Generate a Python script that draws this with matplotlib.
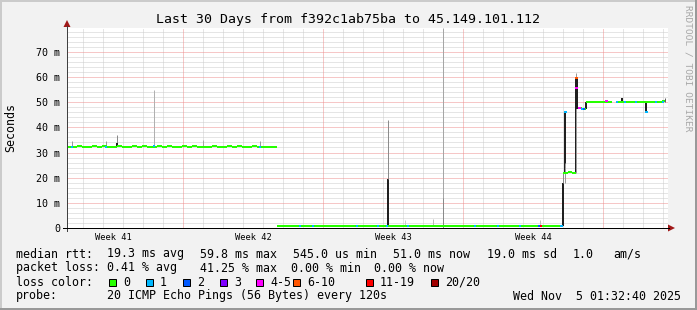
import numpy as np
import matplotlib
matplotlib.use("Agg")
import matplotlib.pyplot as plt
from matplotlib.patches import Polygon, Rectangle
from matplotlib.lines import Line2D

W, H = 697, 310
MONO = "DejaVu Sans Mono"

# ---- data (x in days from left edge of graph, rtt in ms) ----
step = 0.25
seg1_start = 0.0
seg1_rtt = [32.3, 32.1, 32.5, 32.2, 32.0, 32.4, 32.3, 32.6, 32.1, 32.2, 32.5, 32.3,
            32.0, 32.4, 32.2, 32.6, 32.3, 32.1, 32.4, 32.2, 32.5, 32.0, 32.3, 32.4,
            32.1, 32.6, 32.2, 32.3, 32.0, 32.5, 32.3, 32.1, 32.4, 32.2, 32.6, 32.3,
            32.0, 32.4, 32.2, 32.1, 32.3, 32.2]
seg2_start = 10.5
seg2_rtt = [0.7, 0.8, 0.7, 0.6, 0.7, 0.7, 0.8, 0.7, 0.6, 0.7, 0.7, 0.8,
            0.7, 0.7, 0.6, 0.7, 0.8, 0.7, 0.7, 0.6, 0.7, 0.8, 0.7, 0.7,
            0.7, 0.6, 0.7, 0.8, 0.7, 0.7, 0.6, 0.7, 0.7, 0.8, 0.7, 0.7,
            0.6, 0.7, 0.8, 0.7, 0.7, 0.7, 0.6, 0.7, 0.8, 0.7, 0.7, 0.6,
            0.7, 0.7, 0.8, 0.7, 0.7, 0.6, 0.7, 0.8, 0.7]
seg3_edges = [24.80, 25.05, 25.25, 25.45, 25.55, 25.75, 25.95, 26.20, 26.45, 26.70,
              26.95, 27.25, 27.50, 27.75, 28.00, 28.25, 28.50, 28.75, 28.95, 29.00,
              29.25, 29.50, 29.75, 29.92]
seg3_rtt = [22.0, 22.1, 21.9, np.nan, 47.6, 47.4, 50.0, 50.1, 49.9, 50.0, 50.1,
            np.nan, 50.0, 49.9, 50.1, 50.0, 50.0, 50.1, 50.0, 49.9, 50.0, 50.1, 50.4]

# points with packet loss (day, rtt, loss class)
loss_day = [0.25, 1.95, 4.35, 9.65, 11.65, 12.3, 14.5, 15.55, 16.0, 17.05, 20.4,
            21.55, 22.65, 23.6, 23.7, 24.72, 24.92, 25.47, 25.47, 25.62, 25.78,
            25.86, 26.98, 27.5, 27.9, 28.45, 28.97, 29.45, 29.8]
loss_rtt = [32.3, 32.2, 32.4, 32.3, 0.7, 0.7, 0.7, 0.7, 0.7, 0.7, 0.7,
            0.7, 0.7, 0.7, 0.7, 0.7, 46.0, 59.8, 55.7, 47.6, 47.5,
            47.4, 50.4, 50.0, 50.0, 50.0, 46.0, 50.0, 50.2]
loss_cls = [1, 1, 1, 1, 1, 1, 1, 1, 1, 1, 1,
            1, 1, 2, 6, 1, 1, 5, 4, 4, 1,
            2, 4, 1, 1, 1, 1, 1, 1]

# smoke (spread of the pings)
smoke_day = [0.25, 1.95, 2.5, 2.52, 4.35, 6.8, 9.65, 16.05, 16.05, 16.9, 18.3,
             18.8, 18.8, 23.65, 24.78, 24.8, 24.92, 24.9, 25.47, 25.45, 25.52,
             25.95, 26.98, 27.75, 28.95, 29.88]
smoke_lo = [32.5, 32.5, 32.5, 32.5, 32.5, 32.5, 32.5, 0.7, 19.5, 0.7, 0.7,
            0.0, 0.0, 0.7, 0.7, 18.0, 22.0, 18.0, 22.0, 22.0, 47.5,
            47.5, 50.0, 50.0, 46.0, 50.0]
smoke_hi = [34.7, 34.7, 37.0, 33.8, 55.0, 35.0, 34.7, 19.5, 43.0, 3.0, 3.5,
            79.5, 12.0, 3.0, 18.0, 22.0, 46.0, 26.0, 59.8, 61.5, 59.8,
            50.0, 51.0, 51.5, 50.0, 51.5]
smoke_col = ["#9a9a9a", "#9a9a9a", "#8a8a8a", "#202020", "#b0b0b0", "#a8a8a8",
             "#9a9a9a", "#202020", "#8c8c8c", "#cccccc", "#bbbbbb",
             "#a6a6a6", "#8a8a8a", "#bbbbbb", "#202020", "#8a8a8a", "#202020",
             "#9a9a9a", "#202020", "#9a9a9a", "#202020",
             "#202020", "#9a9a9a", "#202020", "#202020", "#606060"]

loss_colors = ["#26ff00", "#00b8ff", "#0059ff", "#7e00ff", "#ff00ff",
               "#ff5500", "#ff0000", "#a10000"]
loss_labels = ["0", "1", "2", "3", "4-5", "6-10", "11-19", "20/20"]

week_labels = ["Week 41", "Week 42", "Week 43", "Week 44"]
week_start = [5.8, 12.8, 19.8, 26.8]
ytick_vals = [0, 10, 20, 30, 40, 50, 60, 70]
ytick_labels = ["0", "10 m", "20 m", "30 m", "40 m", "50 m", "60 m", "70 m"]

px = 0.72  # one pixel in points at dpi 100


def P(x, y):
    return (x / W, 1 - y / H)


fig = plt.figure(figsize=(W / 100, H / 100), dpi=100)
fig.patch.set_facecolor("#F2F2F2")

ax = fig.add_axes([67 / W, (H - 228) / H, 601 / W, 200 / H])
ax.set_facecolor("white")
ax.set_xlim(0, 30.05)
ax.set_ylim(0, 79.5)
for s in ax.spines.values():
    s.set_visible(False)

# grid, dotted
dot = (0, (1, 1))
for y in np.arange(2, 79, 2):
    if y % 10:
        ax.axhline(y, color="#cccccc", lw=px, ls=dot, zorder=0)
for d in np.arange(0.8, 30.05, 1.0):
    if not any(abs(d - w) < 0.01 for w in week_start):
        ax.axvline(d, color="#cccccc", lw=px, ls=dot, zorder=0)
for y in range(10, 80, 10):
    ax.axhline(y, color="#ee9090", lw=px, ls=dot, zorder=0.5)
for w in week_start:
    ax.axvline(w, color="#ee9090", lw=px, ls=dot, zorder=0.5)

# smoke
for d, lo, hi, c in zip(smoke_day, smoke_lo, smoke_hi, smoke_col):
    lw = 2 * px if c == "#202020" else px
    ax.vlines(d, lo, hi, colors=c, lw=lw, zorder=2)

# median rtt
for start, vals in [(seg1_start, seg1_rtt), (seg2_start, seg2_rtt)]:
    for i, v in enumerate(vals):
        ax.hlines(v, start + i * step, start + (i + 1) * step,
                  colors=loss_colors[0], lw=2 * px, zorder=3)
for i, v in enumerate(seg3_rtt):
    if not np.isnan(v):
        ax.hlines(v, seg3_edges[i], seg3_edges[i + 1],
                  colors=loss_colors[0], lw=2 * px, zorder=3)
for d, r, c in zip(loss_day, loss_rtt, loss_cls):
    ax.hlines(r, d - 0.06, d + 0.06, colors=loss_colors[c], lw=2 * px, zorder=4)

# ticks
ax.set_yticks(ytick_vals)
ax.set_yticklabels(ytick_labels, fontfamily=MONO, fontsize=7.2)
ax.set_xticks([w - 3.5 for w in week_start])
ax.set_xticklabels(week_labels, fontfamily=MONO, fontsize=6.3)
ax.tick_params(axis="y", length=0, pad=5)
ax.tick_params(axis="x", length=0, pad=3.5)

# axes lines and arrows
fig.add_artist(Line2D(*zip(P(67, 231), P(67, 26)), color="#404040", lw=px))
fig.add_artist(Line2D(*zip(P(63, 228), P(669, 228)), color="#000000", lw=px))
fig.add_artist(Polygon([P(63.5, 27), P(70.5, 27), P(67, 20)], closed=True,
                       color="#a01818", lw=0))
fig.add_artist(Polygon([P(668, 224.5), P(668, 231.5), P(675, 228)], closed=True,
                       color="#a01818", lw=0))

# frame of the image
fig.add_artist(Line2D(*zip(P(0, 1), P(W, 1)), color="#cbcbcb", lw=2 * px))
fig.add_artist(Line2D(*zip(P(1, 0), P(1, H)), color="#cbcbcb", lw=2 * px))
fig.add_artist(Line2D(*zip(P(0, H - 1), P(W, H - 1)), color="#999999", lw=2 * px))
fig.add_artist(Line2D(*zip(P(W - 1, 0), P(W - 1, H)), color="#999999", lw=2 * px))

# title, labels, watermark
fig.text(*P(348.5, 19), "Last 30 Days from f392c1ab75ba to 45.149.101.112",
         ha="center", va="center", fontfamily=MONO, fontsize=9.5)
fig.text(*P(11, 127), "Seconds", rotation=90, ha="center", va="center",
         fontfamily=MONO, fontsize=8.4)
fig.text(*P(688, 5), "RRDTOOL / TOBI OETIKER", rotation=270, ha="center",
         va="top", fontfamily=MONO, fontsize=6.8, color="#a8a8a8")

# legend
fs = 8.4
rows = [
    (254, [(16, "median rtt:"), (107, "19.3 ms avg"), (200, "59.8 ms max"),
           (293, "545.0 us min"), (393, "51.0 ms now"), (487, "19.0 ms sd"),
           (573, "1.0"), (613, "am/s")]),
    (268, [(16, "packet loss:"), (107, "0.41 % avg"), (200, "41.25 % max"),
           (291, "0.00 % min"), (374, "0.00 % now")]),
    (282, [(16, "loss color:")]),
    (296, [(16, "probe:"), (107, "20 ICMP Echo Pings (56 Bytes) every 120s"),
           (513, "Wed Nov  5 01:32:40 2025")]),
]
for y, items in rows:
    for x, t in items:
        fig.text(*P(x, y), t, ha="left", va="center", fontfamily=MONO, fontsize=fs)

box_x = [108.5, 145.5, 182.5, 219.5, 255.5, 292.5, 365.5, 431]
for bx, c, lab in zip(box_x, loss_colors, loss_labels):
    fig.add_artist(Rectangle(P(bx, 286), 7 / W, 7 / H, facecolor=c,
                             edgecolor="black", lw=px))
    fig.text(*P(bx + 14.5, 282), lab, ha="left", va="center",
             fontfamily=MONO, fontsize=fs)

fig.savefig("out.png", dpi=100, facecolor=fig.get_facecolor())
